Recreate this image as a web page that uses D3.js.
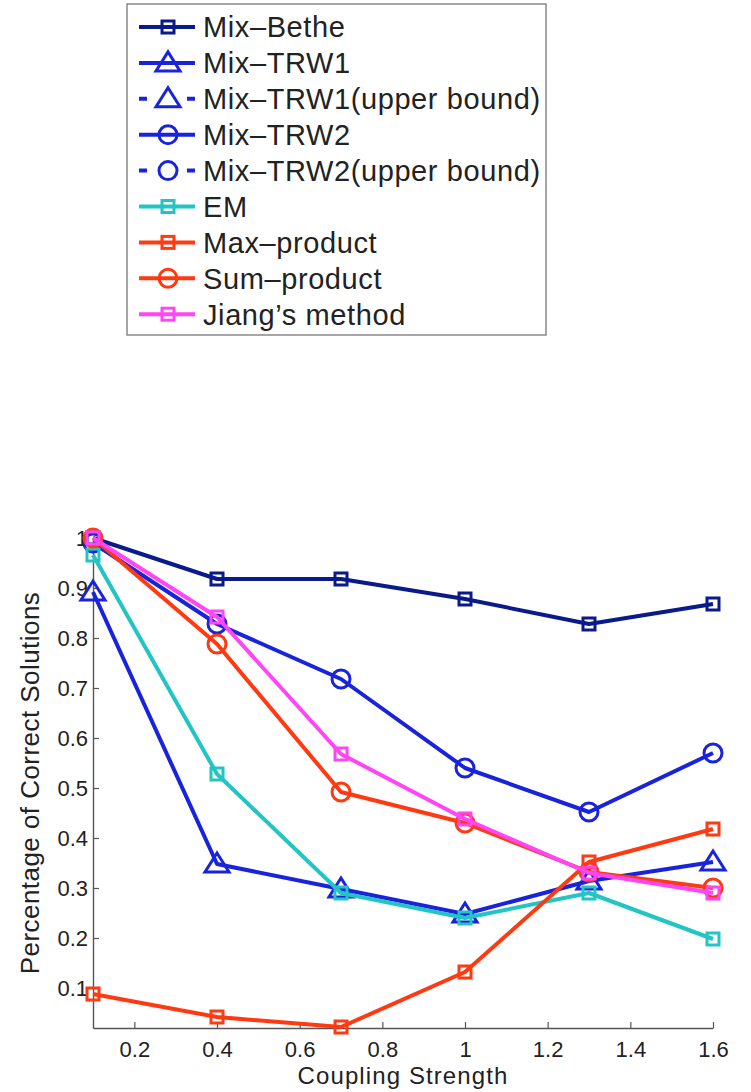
<!DOCTYPE html>
<html>
<head>
<meta charset="utf-8">
<script src="https://cdn.jsdelivr.net/npm/d3@7/dist/d3.min.js"></script>
<style>
  body { margin: 0; background: #fff; }
  text { font-family: 'Liberation Sans', Arial, sans-serif; fill: #222; }
</style>
</head>
<body>
<svg id="root" width="751" height="1092"></svg>
<script>
// coupling strengths on the x axis
const coupling = [0.1, 0.4, 0.7, 1.0, 1.3, 1.6]

// percentage of correct solutions, one list per method
const mixBethe = [1.0, 0.918, 0.918, 0.878, 0.828, 0.868]
const mixTRW1 = [0.892, 0.348, 0.298, 0.248, 0.314, 0.352]
const mixTRW2 = [0.99, 0.828, 0.718, 0.54, 0.452, 0.57]
const em = [0.966, 0.528, 0.29, 0.24, 0.29, 0.198]
const maxProduct = [0.088, 0.042, 0.022, 0.132, 0.352, 0.418]
const sumProduct = [1.0, 0.788, 0.492, 0.43, 0.332, 0.3]
const jiang = [1.0, 0.842, 0.568, 0.438, 0.33, 0.29]

const xTicks = [0.2, 0.4, 0.6, 0.8, 1.0, 1.2, 1.4, 1.6]
const xTickLabels = ['0.2', '0.4', '0.6', '0.8', '1', '1.2', '1.4', '1.6']
const yTicks = [0.1, 0.2, 0.3, 0.4, 0.5, 0.6, 0.7, 0.8, 0.9, 1.0]
const yTickLabels = ['0.1', '0.2', '0.3', '0.4', '0.5', '0.6', '0.7', '0.8', '0.9', '1']

const navy = '#0b1a8a'
const blue = '#1a23dc'
const cyan = '#22c4c4'
const red = '#ff3a12'
const magenta = '#ff45f5'

// legend order; upper bound series only show up in the legend
const series = [
  { name: 'Mix\u2013Bethe', color: navy, marker: 'square', values: mixBethe },
  { name: 'Mix\u2013TRW1', color: blue, marker: 'triangle', values: mixTRW1 },
  { name: 'Mix\u2013TRW1(upper bound)', color: blue, marker: 'triangle', dashed: true, values: null },
  { name: 'Mix\u2013TRW2', color: blue, marker: 'circle', values: mixTRW2 },
  { name: 'Mix\u2013TRW2(upper bound)', color: blue, marker: 'circle', dashed: true, values: null },
  { name: 'EM', color: cyan, marker: 'square', values: em },
  { name: 'Max\u2013product', color: red, marker: 'square', values: maxProduct },
  { name: 'Sum\u2013product', color: red, marker: 'circle', values: sumProduct },
  { name: 'Jiang\u2019s method', color: magenta, marker: 'square', values: jiang }
]

const root = d3.select('#root')

const x = d3.scaleLinear().domain([0.1, 1.6]).range([93, 713])
const y = d3.scaleLinear().domain([0.02, 1.0]).range([1028, 538])

// axes, ticks pointing inward like matlab
const xAxis = d3.axisBottom(x)
  .tickValues(xTicks)
  .tickFormat((d, i) => xTickLabels[i])
  .tickSizeInner(-6)
  .tickSizeOuter(0)
  .tickPadding(13)

const yAxis = d3.axisLeft(y)
  .tickValues(yTicks)
  .tickFormat((d, i) => yTickLabels[i])
  .tickSizeInner(-6)
  .tickSizeOuter(0)
  .tickPadding(5)

const gx = root.append('g').attr('transform', `translate(0,${y(0.02)})`).call(xAxis)
const gy = root.append('g').attr('transform', `translate(${x(0.1)},0)`).call(yAxis)

;[gx, gy].forEach((g) => {
  g.select('.domain').attr('stroke', '#555').attr('stroke-width', 1.4)
  g.selectAll('.tick line').attr('stroke', '#555').attr('stroke-width', 1.2)
  g.selectAll('.tick text')
    .attr('font-size', 22)
    .attr('font-family', "'Liberation Sans', Arial, sans-serif")
    .attr('fill', '#222')
})
gy.selectAll('.tick text').attr('dy', '0.36em')

root.append('text')
  .attr('x', 403)
  .attr('y', 1084)
  .attr('text-anchor', 'middle')
  .attr('font-size', 24)
  .attr('letter-spacing', 1.1)
  .text('Coupling Strength')

root.append('text')
  .attr('transform', `translate(39,${(y(1) + y(0.02)) / 2}) rotate(-90)`)
  .attr('text-anchor', 'middle')
  .attr('font-size', 26)
  .attr('letter-spacing', 0.45)
  .text('Percentage of Correct Solutions')

function drawMarker (g, kind, cx, cy, color) {
  if (kind === 'square') {
    g.append('rect')
      .attr('x', cx - 6).attr('y', cy - 6)
      .attr('width', 12).attr('height', 12)
      .attr('fill', 'none').attr('stroke', color).attr('stroke-width', 3)
  } else if (kind === 'circle') {
    g.append('circle')
      .attr('cx', cx).attr('cy', cy).attr('r', 9)
      .attr('fill', 'none').attr('stroke', color).attr('stroke-width', 3)
  } else {
    g.append('path')
      .attr('d', `M${cx},${cy - 11}L${cx + 12},${cy + 8}L${cx - 12},${cy + 8}Z`)
      .attr('fill', 'none').attr('stroke', color).attr('stroke-width', 3)
  }
}

const line = d3.line()
  .x((d, i) => x(coupling[i]))
  .y((d) => y(d))

const plot = root.append('g')
series.filter((s) => s.values).forEach((s) => {
  const g = plot.append('g')
  g.append('path')
    .attr('d', line(s.values))
    .attr('fill', 'none')
    .attr('stroke', s.color)
    .attr('stroke-width', 4)
    .attr('stroke-linejoin', 'round')
  s.values.forEach((v, i) => drawMarker(g, s.marker, x(coupling[i]), y(v), s.color))
})

// legend
const legend = root.append('g')
legend.append('rect')
  .attr('x', 127).attr('y', 4)
  .attr('width', 419).attr('height', 331)
  .attr('fill', '#fff')
  .attr('stroke', '#888')
  .attr('stroke-width', 1.5)

series.forEach((s, i) => {
  const cy = 27 + i * 35.9
  const g = legend.append('g')
  g.append('line')
    .attr('x1', 139).attr('x2', 195)
    .attr('y1', cy).attr('y2', cy)
    .attr('stroke', s.color)
    .attr('stroke-width', 4)
    .attr('stroke-dasharray', s.dashed ? '8,40,8' : null)
  drawMarker(g, s.marker, 168, cy, s.color)
  g.append('text')
    .attr('x', 203)
    .attr('y', cy)
    .attr('dy', '0.36em')
    .attr('font-size', 29)
    .attr('letter-spacing', 0.6)
    .text(s.name)
})
</script>
</body>
</html>
